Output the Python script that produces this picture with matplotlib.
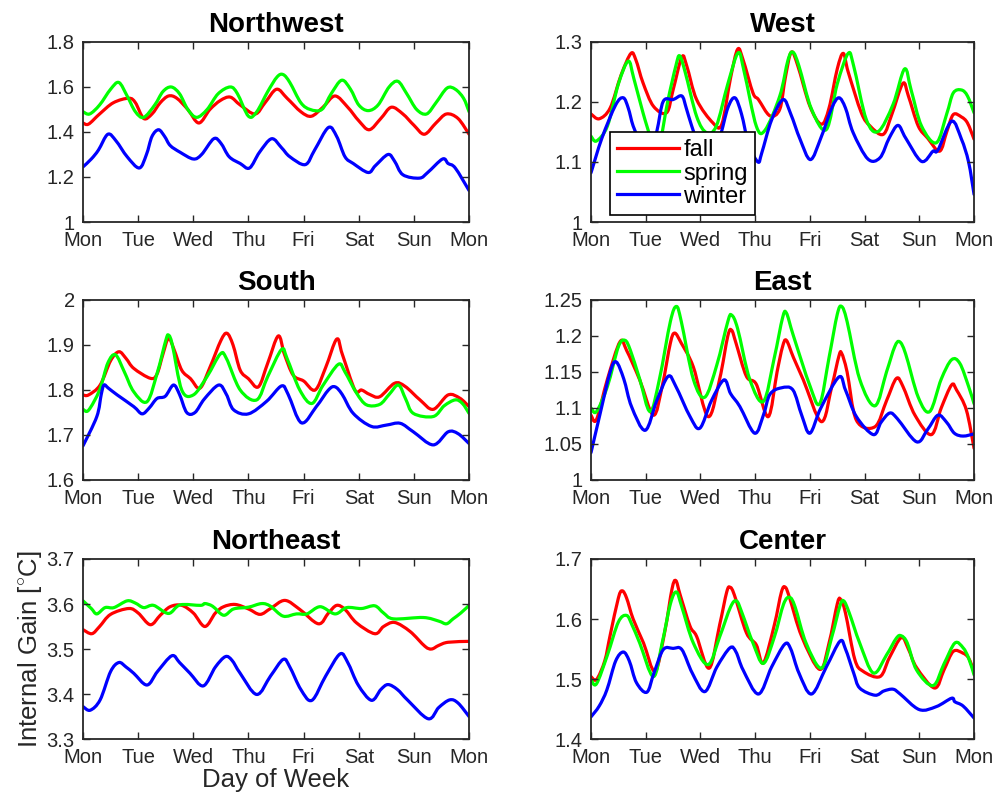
import matplotlib
matplotlib.use("Agg")
import matplotlib.pyplot as plt
import numpy as np
from matplotlib.lines import Line2D
from matplotlib.patches import PathPatch
from matplotlib.path import Path
from matplotlib.ticker import FuncFormatter

plt.rcParams["font.family"] = ["Liberation Sans", "DejaVu Sans"]
plt.rcParams["mathtext.fontset"] = "custom"
plt.rcParams["mathtext.rm"] = "Liberation Sans"

day_labels = ["Mon", "Tue", "Wed", "Thu", "Fri", "Sat", "Sun", "Mon"]
seasons = ["fall", "spring", "winter"]

# --- Northwest ---
nw_fall_t = [0, 0.1, 0.3, 0.55, 0.83, 0.95, 1.1, 1.25, 1.4, 1.55, 1.7, 1.9, 2.1, 2.3, 2.49, 2.67, 2.85, 3.12, 3.3, 3.51, 3.7, 3.95, 4.14, 4.35, 4.57, 4.8, 5.0, 5.19, 5.4, 5.59, 5.8, 6.0, 6.19, 6.4, 6.59, 6.8, 7.0]
nw_fall_v = [1.44, 1.435, 1.48, 1.53, 1.55, 1.53, 1.46, 1.48, 1.53, 1.56, 1.55, 1.50, 1.44, 1.50, 1.54, 1.555, 1.52, 1.48, 1.53, 1.59, 1.55, 1.49, 1.47, 1.51, 1.56, 1.51, 1.45, 1.41, 1.46, 1.51, 1.48, 1.43, 1.39, 1.44, 1.48, 1.46, 1.39]
nw_spring_t = [0, 0.12, 0.3, 0.5, 0.65, 0.8, 0.95, 1.1, 1.3, 1.45, 1.6, 1.75, 1.9, 2.06, 2.25, 2.45, 2.67, 2.8, 3.0, 3.15, 3.35, 3.52, 3.63, 3.75, 3.95, 4.12, 4.33, 4.5, 4.69, 4.85, 5.0, 5.17, 5.35, 5.55, 5.71, 5.87, 6.05, 6.23, 6.4, 6.6, 6.75, 6.9, 7.0]
nw_spring_v = [1.49, 1.48, 1.52, 1.59, 1.62, 1.56, 1.49, 1.465, 1.52, 1.58, 1.60, 1.57, 1.50, 1.465, 1.50, 1.57, 1.60, 1.57, 1.47, 1.49, 1.58, 1.645, 1.655, 1.62, 1.53, 1.50, 1.50, 1.57, 1.63, 1.59, 1.52, 1.495, 1.52, 1.60, 1.625, 1.57, 1.50, 1.48, 1.53, 1.595, 1.59, 1.55, 1.49]
nw_winter_t = [0, 0.15, 0.28, 0.45, 0.6, 0.8, 1.02, 1.15, 1.25, 1.37, 1.48, 1.58, 1.76, 2.0, 2.15, 2.37, 2.5, 2.65, 2.85, 3.02, 3.2, 3.42, 3.6, 3.75, 4.03, 4.2, 4.45, 4.6, 4.75, 4.9, 5.17, 5.3, 5.53, 5.65, 5.8, 6.1, 6.25, 6.52, 6.62, 6.75, 7.0]
nw_winter_v = [1.245, 1.28, 1.32, 1.39, 1.36, 1.29, 1.24, 1.30, 1.38, 1.41, 1.38, 1.34, 1.31, 1.28, 1.30, 1.37, 1.35, 1.29, 1.26, 1.24, 1.31, 1.37, 1.33, 1.29, 1.255, 1.32, 1.42, 1.38, 1.29, 1.26, 1.22, 1.25, 1.30, 1.27, 1.21, 1.195, 1.22, 1.28, 1.26, 1.24, 1.14]

# --- West ---
w_fall_t = [0, 0.15, 0.35, 0.55, 0.73, 0.82, 0.95, 1.14, 1.38, 1.5, 1.66, 1.75, 1.93, 2.23, 2.39, 2.55, 2.68, 2.78, 2.96, 3.06, 3.27, 3.45, 3.55, 3.66, 3.78, 4.0, 4.21, 4.35, 4.5, 4.61, 4.7, 4.94, 5.1, 5.34, 5.5, 5.70, 5.8, 5.98, 6.15, 6.37, 6.5, 6.62, 6.77, 6.88, 7.0]
w_fall_v = [1.18, 1.172, 1.19, 1.245, 1.281, 1.27, 1.232, 1.193, 1.182, 1.22, 1.275, 1.26, 1.204, 1.165, 1.163, 1.24, 1.288, 1.27, 1.215, 1.204, 1.177, 1.188, 1.24, 1.283, 1.26, 1.193, 1.163, 1.19, 1.255, 1.281, 1.25, 1.182, 1.16, 1.146, 1.18, 1.231, 1.21, 1.16, 1.14, 1.118, 1.15, 1.179, 1.175, 1.165, 1.138]
w_spring_t = [0, 0.1, 0.3, 0.5, 0.68, 0.78, 0.95, 1.1, 1.2, 1.26, 1.4, 1.55, 1.62, 1.72, 1.93, 2.11, 2.29, 2.5, 2.69, 2.8, 3.02, 3.18, 3.45, 3.6, 3.69, 3.8, 4.03, 4.30, 4.5, 4.70, 4.8, 5.03, 5.25, 5.52, 5.73, 5.85, 6.04, 6.31, 6.5, 6.62, 6.77, 6.88, 7.0]
w_spring_v = [1.143, 1.135, 1.16, 1.23, 1.268, 1.24, 1.182, 1.138, 1.125, 1.13, 1.2, 1.26, 1.277, 1.25, 1.176, 1.149, 1.16, 1.23, 1.282, 1.25, 1.16, 1.153, 1.21, 1.27, 1.283, 1.26, 1.188, 1.154, 1.23, 1.281, 1.26, 1.171, 1.151, 1.196, 1.255, 1.22, 1.160, 1.132, 1.18, 1.215, 1.22, 1.21, 1.182]
w_winter_t = [0, 0.2, 0.45, 0.59, 0.68, 0.77, 0.9, 1.05, 1.2, 1.32, 1.5, 1.66, 1.74, 1.84, 2.0, 2.15, 2.35, 2.5, 2.63, 2.75, 2.88, 3.05, 3.12, 3.3, 3.51, 3.65, 3.82, 4.01, 4.2, 4.4, 4.53, 4.65, 4.79, 5.06, 5.28, 5.45, 5.61, 5.75, 6.04, 6.25, 6.34, 6.59, 6.77, 6.9, 7.0]
w_winter_v = [1.082, 1.14, 1.195, 1.207, 1.19, 1.16, 1.132, 1.10, 1.15, 1.201, 1.204, 1.21, 1.19, 1.16, 1.12, 1.10, 1.14, 1.19, 1.207, 1.18, 1.13, 1.10, 1.115, 1.17, 1.204, 1.18, 1.138, 1.104, 1.14, 1.19, 1.207, 1.19, 1.149, 1.105, 1.107, 1.14, 1.161, 1.14, 1.101, 1.118, 1.12, 1.168, 1.138, 1.10, 1.046]

# --- South ---
s_fall_t = [0, 0.1, 0.31, 0.5, 0.65, 0.78, 0.92, 1.22, 1.34, 1.45, 1.55, 1.65, 1.79, 1.95, 2.12, 2.3, 2.5, 2.61, 2.72, 2.85, 3.0, 3.18, 3.35, 3.54, 3.65, 3.81, 4.0, 4.21, 4.4, 4.6, 4.7, 4.93, 5.05, 5.2, 5.38, 5.65, 5.84, 6.11, 6.35, 6.62, 6.83, 7.0]
s_fall_v = [1.789, 1.789, 1.811, 1.865, 1.885, 1.87, 1.848, 1.826, 1.835, 1.88, 1.915, 1.89, 1.844, 1.825, 1.804, 1.85, 1.91, 1.926, 1.90, 1.844, 1.825, 1.807, 1.86, 1.92, 1.88, 1.833, 1.82, 1.80, 1.85, 1.913, 1.88, 1.80, 1.80, 1.79, 1.785, 1.815, 1.808, 1.778, 1.757, 1.789, 1.782, 1.763]
s_spring_t = [0, 0.1, 0.3, 0.45, 0.59, 0.75, 0.92, 1.16, 1.35, 1.5, 1.55, 1.62, 1.79, 2.0, 2.25, 2.49, 2.6, 2.85, 3.15, 3.35, 3.6, 3.7, 3.93, 4.15, 4.35, 4.63, 4.75, 4.96, 5.14, 5.38, 5.55, 5.72, 5.85, 5.99, 6.35, 6.55, 6.75, 6.88, 7.0]
s_spring_v = [1.757, 1.755, 1.80, 1.86, 1.878, 1.84, 1.796, 1.774, 1.84, 1.91, 1.922, 1.90, 1.80, 1.789, 1.83, 1.88, 1.87, 1.80, 1.778, 1.83, 1.89, 1.87, 1.80, 1.77, 1.81, 1.857, 1.84, 1.793, 1.767, 1.768, 1.79, 1.811, 1.78, 1.748, 1.741, 1.765, 1.778, 1.77, 1.748]
s_winter_t = [0, 0.25, 0.33, 0.38, 0.46, 0.62, 0.92, 1.07, 1.2, 1.34, 1.49, 1.64, 1.75, 1.88, 2.03, 2.2, 2.46, 2.6, 2.73, 3.0, 3.33, 3.6, 3.72, 3.96, 4.23, 4.45, 4.57, 4.7, 4.9, 5.23, 5.5, 5.75, 5.99, 6.35, 6.62, 6.8, 7.0]
s_winter_v = [1.676, 1.741, 1.79, 1.811, 1.804, 1.789, 1.763, 1.747, 1.76, 1.781, 1.786, 1.811, 1.79, 1.75, 1.75, 1.78, 1.811, 1.79, 1.756, 1.747, 1.775, 1.809, 1.79, 1.727, 1.763, 1.80, 1.807, 1.79, 1.748, 1.719, 1.722, 1.726, 1.707, 1.678, 1.707, 1.703, 1.681]

# --- East ---
e_fall_t = [0, 0.1, 0.3, 0.53, 0.65, 0.89, 1.14, 1.3, 1.45, 1.53, 1.65, 1.87, 2.14, 2.35, 2.5, 2.57, 2.65, 2.84, 3.02, 3.24, 3.4, 3.5, 3.57, 3.7, 3.88, 4.21, 4.4, 4.53, 4.58, 4.68, 4.85, 5.19, 5.4, 5.58, 5.7, 5.92, 6.22, 6.4, 6.59, 6.68, 6.86, 7.0]
e_fall_v = [1.090, 1.084, 1.14, 1.192, 1.18, 1.139, 1.09, 1.13, 1.19, 1.204, 1.19, 1.157, 1.088, 1.14, 1.20, 1.208, 1.19, 1.144, 1.133, 1.088, 1.15, 1.185, 1.194, 1.17, 1.139, 1.081, 1.13, 1.172, 1.176, 1.15, 1.083, 1.074, 1.11, 1.141, 1.13, 1.09, 1.063, 1.10, 1.132, 1.125, 1.097, 1.044]
e_spring_t = [0, 0.1, 0.3, 0.5, 0.62, 0.72, 0.89, 1.08, 1.25, 1.45, 1.56, 1.65, 1.87, 2.08, 2.3, 2.5, 2.57, 2.68, 2.9, 3.15, 3.35, 3.5, 3.57, 3.7, 4.0, 4.18, 4.35, 4.5, 4.58, 4.68, 4.91, 5.19, 5.4, 5.55, 5.64, 5.75, 5.98, 6.19, 6.4, 6.59, 6.74, 6.9, 7.0]
e_spring_v = [1.10, 1.095, 1.13, 1.185, 1.194, 1.18, 1.14, 1.095, 1.14, 1.22, 1.241, 1.22, 1.14, 1.115, 1.16, 1.22, 1.229, 1.21, 1.14, 1.109, 1.17, 1.225, 1.232, 1.20, 1.131, 1.106, 1.17, 1.23, 1.241, 1.22, 1.14, 1.103, 1.15, 1.185, 1.192, 1.175, 1.115, 1.095, 1.14, 1.167, 1.162, 1.13, 1.106]
e_winter_t = [0, 0.16, 0.35, 0.46, 0.6, 0.74, 0.99, 1.2, 1.41, 1.55, 1.81, 1.99, 2.2, 2.43, 2.55, 2.72, 2.99, 3.15, 3.27, 3.48, 3.69, 3.85, 4.0, 4.2, 4.53, 4.65, 4.85, 5.16, 5.3, 5.46, 5.6, 5.95, 6.15, 6.34, 6.5, 6.64, 6.80, 7.0]
e_winter_v = [1.038, 1.09, 1.15, 1.164, 1.14, 1.102, 1.069, 1.11, 1.144, 1.13, 1.088, 1.072, 1.11, 1.139, 1.12, 1.102, 1.065, 1.09, 1.119, 1.128, 1.125, 1.09, 1.065, 1.10, 1.143, 1.125, 1.088, 1.063, 1.08, 1.093, 1.085, 1.053, 1.07, 1.09, 1.08, 1.065, 1.061, 1.064]

# --- Northeast ---
ne_fall_t = [0, 0.16, 0.3, 0.5, 0.83, 1.0, 1.22, 1.4, 1.58, 1.79, 2.0, 2.21, 2.4, 2.55, 2.76, 3.0, 3.21, 3.4, 3.66, 3.93, 4.27, 4.45, 4.6, 4.75, 4.96, 5.29, 5.45, 5.65, 5.93, 6.2, 6.32, 6.45, 6.62, 7.0]
ne_fall_v = [3.543, 3.534, 3.55, 3.577, 3.59, 3.58, 3.554, 3.575, 3.594, 3.597, 3.58, 3.55, 3.58, 3.594, 3.599, 3.589, 3.577, 3.59, 3.608, 3.588, 3.556, 3.58, 3.597, 3.588, 3.558, 3.534, 3.55, 3.559, 3.539, 3.506, 3.50, 3.508, 3.515, 3.517]
ne_spring_t = [0, 0.15, 0.25, 0.4, 0.56, 0.8, 0.95, 1.1, 1.28, 1.55, 1.76, 2.13, 2.21, 2.35, 2.55, 2.73, 3.0, 3.24, 3.4, 3.63, 3.87, 4.06, 4.3, 4.57, 4.78, 5.05, 5.29, 5.45, 5.63, 6.17, 6.45, 6.59, 6.71, 6.85, 7.0]
ne_spring_v = [3.607, 3.59, 3.578, 3.592, 3.592, 3.607, 3.602, 3.592, 3.597, 3.579, 3.598, 3.597, 3.601, 3.595, 3.575, 3.589, 3.593, 3.601, 3.595, 3.573, 3.578, 3.578, 3.594, 3.578, 3.592, 3.59, 3.596, 3.58, 3.567, 3.570, 3.562, 3.556, 3.567, 3.58, 3.597]
ne_winter_t = [0, 0.13, 0.31, 0.5, 0.65, 0.78, 0.92, 1.16, 1.35, 1.61, 1.75, 1.94, 2.18, 2.4, 2.58, 2.7, 2.85, 3.15, 3.4, 3.63, 3.75, 3.95, 4.15, 4.4, 4.66, 4.8, 4.99, 5.23, 5.4, 5.53, 5.7, 5.89, 6.26, 6.45, 6.65, 6.8, 7.0]
ne_winter_v = [3.372, 3.364, 3.387, 3.45, 3.470, 3.46, 3.446, 3.42, 3.45, 3.485, 3.47, 3.446, 3.418, 3.46, 3.483, 3.475, 3.446, 3.399, 3.44, 3.477, 3.46, 3.41, 3.386, 3.44, 3.489, 3.47, 3.42, 3.386, 3.41, 3.421, 3.41, 3.386, 3.345, 3.37, 3.387, 3.38, 3.35]

# --- Center ---
c_fall_t = [0, 0.1, 0.25, 0.35, 0.5, 0.57, 0.65, 0.77, 0.96, 1.17, 1.35, 1.48, 1.55, 1.63, 1.81, 1.93, 2.16, 2.35, 2.48, 2.54, 2.62, 2.84, 3.02, 3.15, 3.35, 3.48, 3.55, 3.63, 3.85, 4.18, 4.35, 4.5, 4.56, 4.65, 4.82, 4.97, 5.28, 5.45, 5.67, 5.8, 5.95, 6.28, 6.45, 6.62, 6.80, 6.9, 7.0]
c_fall_v = [1.504, 1.499, 1.53, 1.573, 1.635, 1.647, 1.635, 1.60, 1.56, 1.513, 1.58, 1.65, 1.664, 1.64, 1.588, 1.571, 1.518, 1.59, 1.645, 1.653, 1.64, 1.577, 1.557, 1.527, 1.59, 1.645, 1.653, 1.635, 1.571, 1.516, 1.56, 1.625, 1.633, 1.61, 1.533, 1.513, 1.504, 1.535, 1.569, 1.55, 1.519, 1.485, 1.515, 1.546, 1.543, 1.535, 1.513]
c_spring_t = [0, 0.1, 0.3, 0.5, 0.65, 0.75, 0.89, 1.14, 1.3, 1.45, 1.56, 1.66, 1.87, 2.14, 2.35, 2.55, 2.66, 2.76, 2.96, 3.15, 3.35, 3.52, 3.63, 3.73, 3.93, 4.21, 4.4, 4.55, 4.62, 4.72, 4.91, 5.16, 5.4, 5.58, 5.67, 5.78, 5.95, 6.25, 6.45, 6.65, 6.80, 6.9, 7.0]
c_spring_v = [1.499, 1.492, 1.54, 1.595, 1.606, 1.59, 1.56, 1.504, 1.56, 1.625, 1.645, 1.62, 1.56, 1.524, 1.57, 1.62, 1.630, 1.61, 1.56, 1.526, 1.57, 1.625, 1.636, 1.62, 1.56, 1.518, 1.57, 1.622, 1.63, 1.61, 1.56, 1.51, 1.54, 1.568, 1.572, 1.56, 1.515, 1.489, 1.525, 1.56, 1.552, 1.535, 1.507]
c_winter_t = [0, 0.15, 0.29, 0.45, 0.59, 0.7, 0.83, 1.02, 1.15, 1.32, 1.5, 1.66, 1.85, 2.08, 2.3, 2.54, 2.65, 2.78, 3.06, 3.3, 3.54, 3.65, 3.8, 4.03, 4.3, 4.55, 4.65, 4.8, 4.91, 5.19, 5.35, 5.52, 5.65, 6.0, 6.31, 6.59, 6.65, 6.8, 7.0]
c_winter_v = [1.437, 1.455, 1.482, 1.53, 1.545, 1.53, 1.494, 1.478, 1.51, 1.549, 1.551, 1.549, 1.51, 1.479, 1.52, 1.552, 1.545, 1.515, 1.475, 1.52, 1.558, 1.55, 1.51, 1.475, 1.52, 1.563, 1.55, 1.51, 1.485, 1.473, 1.48, 1.483, 1.475, 1.449, 1.454, 1.468, 1.462, 1.455, 1.435]

colors = ["#ff0000", "#00ff00", "#0000ff"]
axis_grey = "#262626"

panels = [
    ("Northwest", [(nw_fall_t, nw_fall_v), (nw_spring_t, nw_spring_v), (nw_winter_t, nw_winter_v)],
     (1.0, 1.8), [1.0, 1.2, 1.4, 1.6, 1.8]),
    ("West", [(w_fall_t, w_fall_v), (w_spring_t, w_spring_v), (w_winter_t, w_winter_v)],
     (1.0, 1.3), [1.0, 1.1, 1.2, 1.3]),
    ("South", [(s_fall_t, s_fall_v), (s_spring_t, s_spring_v), (s_winter_t, s_winter_v)],
     (1.6, 2.0), [1.6, 1.7, 1.8, 1.9, 2.0]),
    ("East", [(e_fall_t, e_fall_v), (e_spring_t, e_spring_v), (e_winter_t, e_winter_v)],
     (1.0, 1.25), [1.0, 1.05, 1.1, 1.15, 1.2, 1.25]),
    ("Northeast", [(ne_fall_t, ne_fall_v), (ne_spring_t, ne_spring_v), (ne_winter_t, ne_winter_v)],
     (3.3, 3.7), [3.3, 3.4, 3.5, 3.6, 3.7]),
    ("Center", [(c_fall_t, c_fall_v), (c_spring_t, c_spring_v), (c_winter_t, c_winter_v)],
     (1.4, 1.7), [1.4, 1.5, 1.6, 1.7]),
]


def smooth_path(t, v):
    """Cubic Bezier path passing through every read point (Catmull-Rom tangents)."""
    p = np.column_stack([t, v]).astype(float)
    ext = np.vstack([p[0], p, p[-1]])
    verts = [p[0]]
    codes = [Path.MOVETO]
    for k in range(len(p) - 1):
        p0, p1, p2, p3 = ext[k], ext[k + 1], ext[k + 2], ext[k + 3]
        verts += [p1 + (p2 - p0) / 6.0, p2 - (p3 - p1) / 6.0, p2]
        codes += [Path.CURVE4] * 3
    return Path(verts, codes)


# axes rectangles in figure fractions (left, bottom, width, height)
lefts = [0.0832, 0.5922]
widths = [0.3868, 0.3838]
bottoms = [0.7218, 0.3985, 0.0739]
height = 0.2256

fig = plt.figure(figsize=(9.98, 7.98), dpi=100)
fmt = FuncFormatter(lambda val, _: f"{val:g}")

for i, (title, series, ylim, yticks) in enumerate(panels):
    row, col = divmod(i, 2)
    ax = fig.add_axes([lefts[col], bottoms[row], widths[col], height])
    for (t, v), color in zip(series, colors):
        ax.add_patch(PathPatch(smooth_path(t, v), facecolor="none", edgecolor=color,
                               lw=2.3, capstyle="round", joinstyle="round"))
    ax.set_xlim(0, 7)
    ax.set_ylim(*ylim)
    ax.set_xticks(range(8))
    ax.set_xticklabels(day_labels)
    ax.set_yticks(yticks)
    ax.yaxis.set_major_formatter(fmt)
    ax.tick_params(direction="in", length=5, width=1, top=True, right=True,
                   labelsize=14.5, colors=axis_grey)
    ax.tick_params(axis="x", pad=6.5)
    ax.tick_params(axis="y", pad=6)
    for sp in ax.spines.values():
        sp.set_color(axis_grey)
        sp.set_linewidth(1.3)
    ax.set_title(title, fontsize=20, fontweight="bold", pad=7)

    if title == "West":
        handles = [Line2D([], [], color=c, lw=2.3) for c in colors]
        leg = ax.legend(handles, seasons, loc="lower left", bbox_to_anchor=(0.05, 0.04),
                        borderaxespad=0, fontsize=17, handlelength=2.6,
                        handletextpad=0.2, labelspacing=0.05, borderpad=0.3,
                        fancybox=False, framealpha=1, edgecolor="black")
        leg.get_frame().set_linewidth(1.2)
    if title == "Northeast":
        ax.set_ylabel(r"Internal Gain [$^{\circ}$C]", fontsize=18.5, color=axis_grey, labelpad=2)
        ax.set_xlabel("Day of Week", fontsize=18.5, color=axis_grey, labelpad=0.5)

fig.savefig("out.png", dpi=100)
